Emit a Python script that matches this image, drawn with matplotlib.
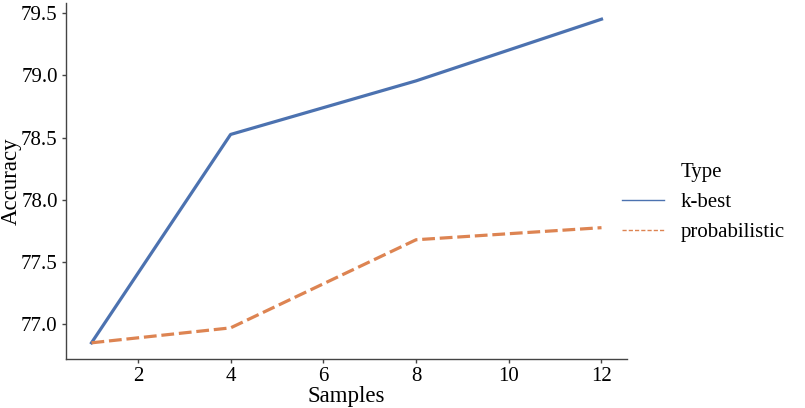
import matplotlib
matplotlib.use("Agg")
import matplotlib.pyplot as plt
from matplotlib.lines import Line2D

samples = [1, 4, 8, 12]
kbest = [76.853, 78.525, 78.955, 79.45]
probabilistic = [76.853, 76.973, 77.68, 77.777]
series_names = ["k-best", "probabilistic"]
legend_title = "Type"

blue = "#4C72B0"
orange = "#DD8452"

plt.rcParams['font.family'] = ['Liberation Serif', 'DejaVu Serif']

fig = plt.figure(figsize=(8.05, 4.08), dpi=100)
ax = fig.add_axes([66 / 805, 1 - 359 / 408, (627 - 66) / 805, (359 - 3) / 408])

ax.plot(samples, kbest, color=blue, lw=2.3)
ax.plot(samples, probabilistic, color=orange, lw=2.3, dashes=(4, 1.5))

ax.set_xticks([2, 4, 6, 8, 10, 12])
ax.set_yticks([77.0, 77.5, 78.0, 78.5, 79.0, 79.5])
ax.set_yticklabels([f"{v:.1f}" for v in ax.get_yticks()])
ax.tick_params(labelsize=15, length=3, width=1, color="#444444", pad=3)
ax.set_xlabel("Samples", fontsize=16.5, labelpad=0)
ax.set_ylabel("Accuracy", fontsize=16.5)
ax.yaxis.set_label_coords(-0.079, 0.5)

for side in ["top", "right"]:
    ax.spines[side].set_visible(False)
for side in ["left", "bottom"]:
    ax.spines[side].set_color("#444444")
    ax.spines[side].set_linewidth(1)

# seaborn-style legend: title as its own row with an empty handle
handles = [
    Line2D([], [], color="none"),
    Line2D([], [], color=blue, lw=1.0),
    Line2D([], [], color=orange, lw=1.0, dashes=(3, 1.5)),
]
fig.legend(handles, [legend_title] + series_names, loc="center left",
           bbox_to_anchor=(622 / 805, 1 - 202 / 408), frameon=False,
           fontsize=15, handlelength=2.0, handletextpad=0.8,
           labelspacing=0.5, borderpad=0, borderaxespad=0)

fig.savefig("out.png", dpi=100)
